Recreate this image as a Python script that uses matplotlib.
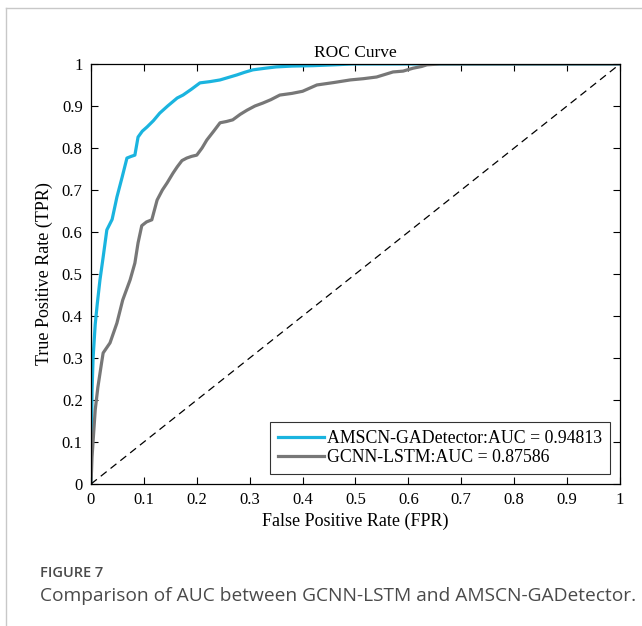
import numpy as np
from matplotlib import pyplot as plt
from matplotlib.lines import Line2D

# ROC points
fpr_amscn = [0, 0.001, 0.002, 0.004, 0.008, 0.012, 0.017, 0.023, 0.030, 0.040, 0.049,
             0.059, 0.068, 0.076, 0.083, 0.089, 0.097, 0.106, 0.118, 0.130, 0.145,
             0.163, 0.174, 0.190, 0.206, 0.225, 0.244, 0.260, 0.276, 0.290, 0.306,
             0.330, 0.350, 0.380, 0.420, 0.460, 0.495, 0.540, 0.600, 0.700, 0.800, 1.0]
tpr_amscn = [0, 0.10, 0.22, 0.30, 0.38, 0.43, 0.486, 0.54, 0.605, 0.63, 0.683,
             0.731, 0.776, 0.78, 0.783, 0.826, 0.84, 0.85, 0.865, 0.883, 0.90,
             0.919, 0.926, 0.94, 0.955, 0.958, 0.962, 0.968, 0.974, 0.98, 0.986,
             0.99, 0.993, 0.995, 0.996, 0.998, 1.0, 1.0, 1.0, 1.0, 1.0, 1.0]

fpr_gcnn = [0, 0.001, 0.002, 0.005, 0.008, 0.013, 0.020, 0.023, 0.030, 0.036, 0.049,
            0.060, 0.074, 0.083, 0.089, 0.096, 0.105, 0.115, 0.125, 0.135, 0.144,
            0.155, 0.163, 0.172, 0.181, 0.190, 0.200, 0.210, 0.219, 0.232, 0.244,
            0.256, 0.268, 0.282, 0.295, 0.310, 0.325, 0.340, 0.357, 0.380, 0.400,
            0.427, 0.460, 0.490, 0.515, 0.540, 0.571, 0.590, 0.609, 0.625, 0.635,
            0.660, 0.700, 0.800, 0.900, 1.0]
tpr_gcnn = [0, 0.03, 0.064, 0.12, 0.176, 0.23, 0.288, 0.312, 0.325, 0.336, 0.383,
            0.438, 0.486, 0.526, 0.574, 0.615, 0.624, 0.629, 0.676, 0.70, 0.717,
            0.74, 0.755, 0.77, 0.776, 0.78, 0.783, 0.80, 0.819, 0.84, 0.86,
            0.863, 0.867, 0.88, 0.89, 0.90, 0.907, 0.915, 0.926, 0.93, 0.935,
            0.95, 0.956, 0.962, 0.965, 0.969, 0.981, 0.983, 0.99, 0.994, 0.998,
            1.0, 1.0, 1.0, 1.0, 1.0]

labels = ['AMSCN-GADetector:AUC = 0.94813', 'GCNN-LSTM:AUC = 0.87586']
ticks = np.arange(0, 1.01, 0.1)
tick_labels = ['0'] + ['%.1f' % t for t in ticks[1:-1]] + ['1']

plt.rcParams['font.family'] = ['Liberation Serif', 'DejaVu Serif']

fig = plt.figure(figsize=(6.42, 6.26), dpi=100)
ax = fig.add_axes([0.1417, 0.2268, 0.824, 0.671])

ax.plot(fpr_amscn, tpr_amscn, color='#1ab4df', lw=2.3, label=labels[0])
ax.plot(fpr_gcnn, tpr_gcnn, color='#777777', lw=2.3, label=labels[1])
ax.plot([0, 1], [0, 1], color='black', lw=0.9, ls=(0, (6, 4)))

ax.set_xlim(0, 1)
ax.set_ylim(0, 1)
ax.set_xticks(ticks)
ax.set_yticks(ticks)
ax.set_xticklabels(tick_labels)
ax.set_yticklabels(tick_labels)
ax.tick_params(direction='in', length=5, width=0.8, top=True, right=True,
               labelsize=12, pad=6)
for s in ax.spines.values():
    s.set_linewidth(0.9)

ax.set_title('ROC Curve', fontsize=12.5, pad=5)
ax.set_xlabel('False Positive Rate (FPR)', fontsize=13, labelpad=3)
ax.set_ylabel('True Positive Rate (TPR)', fontsize=13, labelpad=6)

leg = ax.legend(loc='lower right', fontsize=12.8, frameon=True, fancybox=False,
                edgecolor='black', handlelength=2.6, handletextpad=0.15,
                borderpad=0.45, labelspacing=0.12, borderaxespad=0.55)
leg.get_frame().set_linewidth(0.8)

# page border
fig.add_artist(Line2D([6 / 642, 6 / 642], [0, 1 - 8 / 626], color='#c8c8c8', lw=1))
fig.add_artist(Line2D([6 / 642, 1], [1 - 8 / 626, 1 - 8 / 626], color='#c8c8c8', lw=1))

fig.text(40 / 642, 1 - 573 / 626, 'FIGURE 7', fontsize=10.5, color='#4a4a4a',
         family='Open Sans', weight='semibold', va='center')
fig.text(40 / 642, 1 - 596 / 626,
         'Comparison of AUC between GCNN-LSTM and AMSCN-GADetector.',
         fontsize=13.8, color='#4a4a4a', family='Open Sans', va='center')

fig.savefig('out.png', dpi=100)
